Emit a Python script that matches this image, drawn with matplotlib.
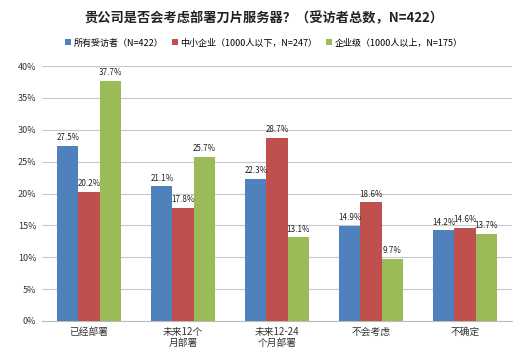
import matplotlib
matplotlib.use("Agg")
import matplotlib.pyplot as plt
import numpy as np

plt.rcParams['font.family'] = ['Noto Sans CJK SC', 'DejaVu Sans']

categories = ['已经部署', '未来12个\n月部署', '未来12-24\n个月部署', '不会考虑', '不确定']
series_names = ['所有受访者（N=422）', '中小企业（1000人以下，N=247）', '企业级（1000人以上，N=175）']
all_resp = [27.5, 21.1, 22.3, 14.9, 14.2]
smb = [20.2, 17.8, 28.7, 18.6, 14.6]
enterprise = [37.7, 25.7, 13.1, 9.7, 13.7]
colors = ['#4F81BD', '#C0504D', '#9BBB59']
yticks = [0, 5, 10, 15, 20, 25, 30, 35, 40]

fig = plt.figure(figsize=(5.28, 3.57), dpi=100)
ax = fig.add_axes([42/528, 1-321/357, 470/528, 255/357])

x = np.arange(len(categories))
w = 0.225
for i, (vals, c, name) in enumerate(zip([all_resp, smb, enterprise], colors, series_names)):
    pos = x + (i - 1) * w
    ax.bar(pos, vals, width=w, color=c, label=name, zorder=3)
    for p, v in zip(pos, vals):
        ax.text(p, v + 0.6, f'{v:.1f}%', ha='center', va='bottom', fontsize=5.8, color='#222222', zorder=4)

ax.set_xlim(-0.5, len(categories) - 0.5)
ax.set_ylim(0, 40)
ax.set_yticks(yticks)
ax.set_yticklabels([f'{t}%' for t in yticks], fontsize=6.5, color='#333333')
ax.set_xticks(x)
ax.set_xticklabels(categories, fontsize=7, color='#333333')
ax.yaxis.grid(True, color='#C8C8C8', linewidth=0.8, zorder=0)
ax.tick_params(axis='both', length=0, pad=4)
for s in ['top', 'right', 'left']:
    ax.spines[s].set_visible(False)
ax.spines['bottom'].set_color('#BBBBBB')

fig.text(0.5, 1-18/357, '贵公司是否会考虑部署刀片服务器？（受访者总数，N=422）', ha='center', va='center',
         fontsize=9.5, fontweight='bold', color='#222222')
fig.legend(loc='center', bbox_to_anchor=(0.5, 1-43/357), ncol=3, frameon=False, fontsize=6.5,
           handlelength=0.6, handleheight=0.6, handletextpad=0.3, columnspacing=1.0)

fig.savefig('out.png', dpi=100, facecolor='white')
